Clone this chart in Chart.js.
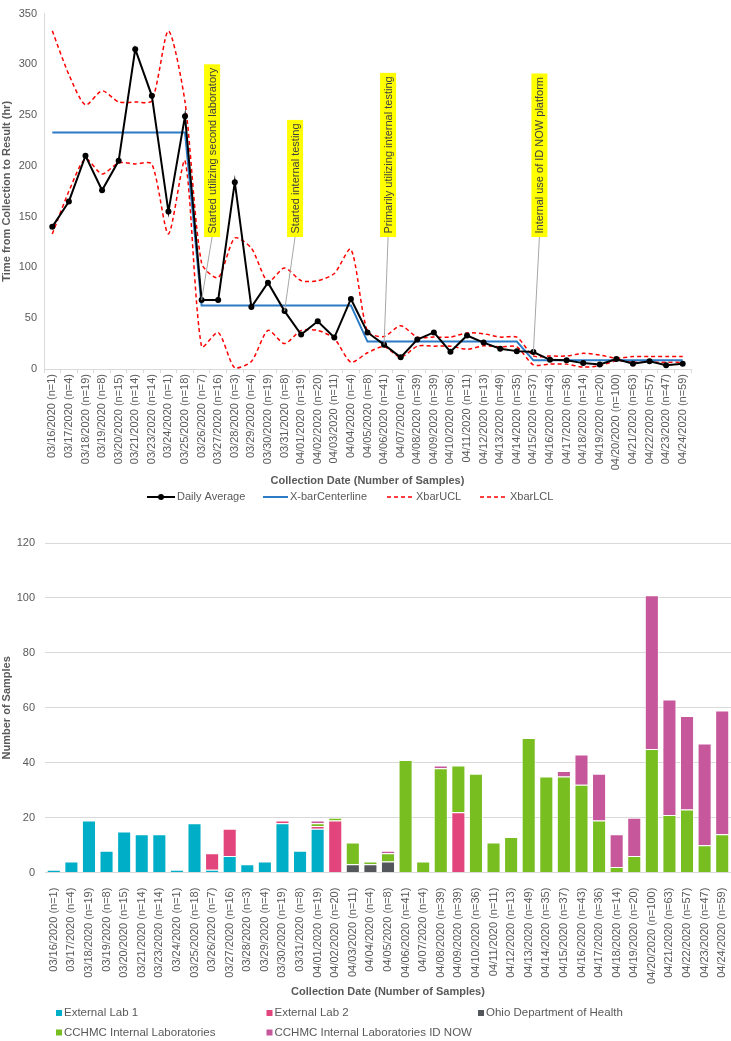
<!DOCTYPE html>
<html>
<head>
<meta charset="utf-8">
<script src="https://cdn.jsdelivr.net/npm/chart.js@4.4.1/dist/chart.umd.min.js"></script>
<style>
  html, body { margin: 0; padding: 0; background: #fff; }
  #wrap { position: relative; width: 731px; height: 1041px; }
  #tat { position: absolute; left: 0; top: 0; width: 731px; height: 512px; }
  #vol { position: absolute; left: 0; top: 520px; width: 731px; height: 521px; }
</style>
</head>
<body>
<div id="wrap">
  <canvas id="tat" width="731" height="512"></canvas>
  <canvas id="vol" width="731" height="521"></canvas>
</div>
<script>
// collection dates and sample counts
const dates = ['03/16/2020', '03/17/2020', '03/18/2020', '03/19/2020', '03/20/2020', '03/21/2020',
  '03/23/2020', '03/24/2020', '03/25/2020', '03/26/2020', '03/27/2020', '03/28/2020', '03/29/2020',
  '03/30/2020', '03/31/2020', '04/01/2020', '04/02/2020', '04/03/2020', '04/04/2020', '04/05/2020',
  '04/06/2020', '04/07/2020', '04/08/2020', '04/09/2020', '04/10/2020', '04/11/2020', '04/12/2020',
  '04/13/2020', '04/14/2020', '04/15/2020', '04/16/2020', '04/17/2020', '04/18/2020', '04/19/2020',
  '04/20/2020', '04/21/2020', '04/22/2020', '04/23/2020', '04/24/2020'];
const sampleCounts = [1, 4, 19, 8, 15, 14, 14, 1, 18, 7, 16, 3, 4, 19, 8, 19, 20, 11, 4, 8,
  41, 4, 39, 39, 36, 11, 13, 49, 35, 37, 43, 36, 14, 20, 100, 63, 57, 47, 59];

// turnaround time (hr)
const dailyAverage = [140, 165, 210, 176, 205, 315, 269, 155, 249,
  68, 68, 184, 61, 85, 57, 34, 47, 31, 69,
  36, 24, 11.5, 29, 36, 17, 33, 26, 20, 17.6,
  16.7, 9, 8.7, 5.8, 4.5, 9.9, 5.1, 7.7, 3.8, 5.1];
const centerline = [233, 233, 233, 233, 233, 233, 233, 233, 233,
  62.6, 62.6, 62.6, 62.6, 62.6, 62.6, 62.6, 62.6, 62.6, 62.6,
  27, 27, 27, 27, 27, 27, 27, 27, 27, 27,
  8.5, 8.5, 8.5, 8.5, 8.5, 8.5, 8.5, 8.5, 8.5, 8.5];
const ucl = [333, 290, 260, 274, 263, 263, 264, 333, 263,
  104, 90, 129, 119, 86, 99.5, 87, 87, 94, 118,
  37, 32, 42.7, 31.4, 31.4, 31.4, 35.5, 34.7, 31.4, 31.4,
  13, 12.8, 12.8, 15.4, 13.8, 10.6, 12.2, 12.2, 12.2, 12.2];
const lcl = [133, 175, 207, 192, 203, 202, 202, 133, 205,
  22, 36, 1, 7.3, 38, 25, 38, 38, 30, 6.7,
  16, 22, 11.6, 22.5, 22.5, 22.5, 19.5, 22.8, 21.8, 21.8,
  4.1, 4.8, 4.8, 1.9, 3.2, 8, 6.7, 6.7, 6.7, 6.7];

// samples by testing site
const extLab1 = [1, 4, 19, 8, 15, 14, 14, 1, 18, 1, 6, 3, 4, 18, 8, 16, 0, 0, 0, 0,
  0, 0, 0, 0, 0, 0, 0, 0, 0, 0, 0, 0, 0, 0, 0, 0, 0, 0, 0];
const extLab2 = [0, 0, 0, 0, 0, 0, 0, 0, 0, 6, 10, 0, 0, 1, 0, 1, 19, 0, 0, 0,
  0, 0, 0, 22, 0, 0, 0, 0, 0, 0, 0, 0, 0, 0, 0, 0, 0, 0, 0];
const ohioHealth = [0, 0, 0, 0, 0, 0, 0, 0, 0, 0, 0, 0, 0, 0, 0, 0, 0, 3, 3, 4,
  0, 0, 0, 0, 0, 0, 0, 0, 0, 0, 0, 0, 0, 0, 0, 0, 0, 0, 0];
const cchmc = [0, 0, 0, 0, 0, 0, 0, 0, 0, 0, 0, 0, 0, 0, 0, 1, 1, 8, 1, 3,
  41, 4, 38, 17, 36, 11, 13, 49, 35, 35, 32, 19, 2, 6, 45, 21, 23, 10, 14];
const cchmcIdNow = [0, 0, 0, 0, 0, 0, 0, 0, 0, 0, 0, 0, 0, 0, 0, 1, 0, 0, 0, 1,
  0, 0, 1, 0, 0, 0, 0, 0, 0, 2, 11, 17, 12, 14, 56, 42, 34, 37, 45];

const notes = [
  { at: 9, text: 'Started utilizing second laboratory', dx: 10.5 },
  { at: 14, text: 'Started internal testing', dx: 10.5 },
  { at: 20, text: 'Primarily utilizing internal testing', dx: 4 },
  { at: 29, text: 'Internal use of ID NOW platform', dx: 6 }
];

const labels = dates.map((d, i) => `${d} (n=${sampleCounts[i]})`);

Chart.defaults.font.family = '"Liberation Sans", Arial, sans-serif';
Chart.defaults.color = '#595959';

const grey = '#d9d9d9';
const textGrey = '#595959';

// yellow callout boxes
const callouts = {
  id: 'callouts',
  afterDatasetsDraw(chart) {
    const { ctx, scales: { x, y } } = chart;
    ctx.save();
    ctx.font = '11px "Liberation Sans", Arial, sans-serif';
    notes.forEach(n => {
      const px = x.getPixelForValue(n.at);
      const py = y.getPixelForValue(dailyAverage[n.at]);
      const cx = px + n.dx;
      const bottom = y.getPixelForValue(130);
      const h = ctx.measureText(n.text).width + 7;
      ctx.strokeStyle = '#a6a6a6';
      ctx.lineWidth = 1;
      ctx.beginPath();
      ctx.moveTo(cx, bottom);
      ctx.lineTo(px, py);
      ctx.stroke();
      ctx.fillStyle = '#ffff00';
      ctx.fillRect(cx - 8, bottom - h, 16, h);
      ctx.save();
      ctx.translate(cx, bottom - 3.5);
      ctx.rotate(-Math.PI / 2);
      ctx.fillStyle = '#404040';
      ctx.textAlign = 'left';
      ctx.textBaseline = 'middle';
      ctx.fillText(n.text, 0, 0.5);
      ctx.restore();
    });
    ctx.restore();
  }
};

const lineLegend = {
  id: 'lineLegend',
  afterDraw(chart) {
    const { ctx } = chart;
    const yy = 497;
    const items = [
      { x1: 147, x2: 175, tx: 177, ds: 0, dot: true },
      { x1: 263, x2: 288, tx: 290, ds: 1 },
      { x1: 387, x2: 414, tx: 416, ds: 2 },
      { x1: 480, x2: 508, tx: 510, ds: 3 }
    ];
    ctx.save();
    ctx.font = '11px "Liberation Sans", Arial, sans-serif';
    ctx.textBaseline = 'middle';
    items.forEach(it => {
      const d = chart.data.datasets[it.ds];
      ctx.strokeStyle = d.borderColor;
      ctx.lineWidth = d.borderWidth;
      ctx.setLineDash(d.borderDash || []);
      ctx.beginPath();
      ctx.moveTo(it.x1, yy);
      ctx.lineTo(it.x2, yy);
      ctx.stroke();
      ctx.setLineDash([]);
      if (it.dot) {
        ctx.fillStyle = d.borderColor;
        ctx.beginPath();
        ctx.arc((it.x1 + it.x2) / 2, yy, 3, 0, Math.PI * 2);
        ctx.fill();
      }
      ctx.fillStyle = textGrey;
      ctx.fillText(d.label, it.tx, yy);
    });
    ctx.restore();
  }
};

new Chart(document.getElementById('tat'), {
  type: 'line',
  data: {
    labels: labels,
    datasets: [{
      label: 'Daily Average',
      data: dailyAverage,
      borderColor: '#000000',
      backgroundColor: '#000000',
      borderWidth: 2,
      pointRadius: 3,
      pointBorderWidth: 0,
      tension: 0
    }, {
      label: 'X-barCenterline',
      data: centerline,
      borderColor: '#2b7bc6',
      borderWidth: 2,
      pointRadius: 0,
      tension: 0
    }, {
      label: 'XbarUCL',
      data: ucl,
      borderColor: '#ff0000',
      borderWidth: 1.5,
      borderDash: [4, 3],
      pointRadius: 0,
      tension: 0.25
    }, {
      label: 'XbarLCL',
      data: lcl,
      borderColor: '#ff0000',
      borderWidth: 1.5,
      borderDash: [4, 3],
      pointRadius: 0,
      tension: 0.25
    }]
  },
  options: {
    responsive: false,
    animation: false,
    layout: { padding: { top: 7, right: 40, bottom: 24, left: 0 } },
    plugins: { legend: { display: false }, tooltip: { enabled: false } },
    scales: {
      x: {
        offset: true,
        grid: { display: true, drawOnChartArea: false, drawTicks: true, tickLength: 4, offset: true, color: grey },
        border: { display: true, color: grey },
        ticks: { autoSkip: false, minRotation: 90, maxRotation: 90, padding: 1, color: textGrey, font: { size: 11 } },
        title: { display: true, text: 'Collection Date (Number of Samples)', color: textGrey, padding: 0,
          font: { size: 11, weight: 'bold' } },
        afterFit(s) { s.height = 119; s.paddingLeft = 0; s.paddingRight = 0; }
      },
      y: {
        min: 0,
        max: 350,
        grid: { display: false, drawTicks: false },
        border: { display: true, color: grey },
        ticks: { stepSize: 50, padding: 7, color: textGrey, font: { size: 11 } },
        title: { display: true, text: 'Time from Collection to Result (hr)', color: textGrey, padding: 0,
          font: { size: 11, weight: 'bold' } },
        afterFit(s) { s.width = 44; }
      }
    }
  },
  plugins: [callouts, lineLegend]
});

const barLegend = {
  id: 'barLegend',
  afterDraw(chart) {
    const { ctx } = chart;
    const spots = [[56, 493], [266.5, 493], [478, 493], [56, 512.5], [266.5, 512.5]];
    ctx.save();
    ctx.font = '11.5px "Liberation Sans", Arial, sans-serif';
    ctx.textBaseline = 'middle';
    chart.data.datasets.forEach((d, i) => {
      const [sx, sy] = spots[i];
      ctx.fillStyle = d.backgroundColor;
      ctx.fillRect(sx, sy - 3, 6, 6);
      ctx.fillStyle = textGrey;
      ctx.fillText(d.label, sx + 8, sy);
    });
    ctx.restore();
  }
};

const barStyle = { borderWidth: 1, borderColor: 'rgba(255,255,255,0.6)', borderSkipped: 'start' };

new Chart(document.getElementById('vol'), {
  type: 'bar',
  data: {
    labels: labels,
    datasets: [
      { label: 'External Lab 1', data: extLab1, backgroundColor: '#00aec7', ...barStyle },
      { label: 'External Lab 2', data: extLab2, backgroundColor: '#e1457b', ...barStyle },
      { label: 'Ohio Department of Health', data: ohioHealth, backgroundColor: '#53565a', ...barStyle },
      { label: 'CCHMC Internal Laboratories', data: cchmc, backgroundColor: '#78be20', ...barStyle },
      { label: 'CCHMC Internal Laboratories ID NOW', data: cchmcIdNow, backgroundColor: '#c6579a', ...barStyle }
    ]
  },
  options: {
    responsive: false,
    animation: false,
    layout: { padding: { top: 23, right: 0, bottom: 42.4, left: 0 } },
    datasets: { bar: { categoryPercentage: 0.8, barPercentage: 1 } },
    plugins: { legend: { display: false }, tooltip: { enabled: false } },
    scales: {
      x: {
        stacked: true,
        grid: { display: false },
        border: { display: true, color: grey },
        ticks: { autoSkip: false, minRotation: 90, maxRotation: 90, padding: 7, color: textGrey, font: { size: 11 } },
        title: { display: true, text: 'Collection Date (Number of Samples)', color: textGrey, padding: 0,
          font: { size: 11, weight: 'bold' } },
        afterFit(s) { s.height = 126; s.paddingLeft = 0; s.paddingRight = 0; }
      },
      y: {
        stacked: true,
        min: 0,
        max: 120,
        grid: { color: grey, drawTicks: false },
        border: { display: false },
        ticks: { stepSize: 20, padding: 10, color: textGrey, font: { size: 11 } },
        title: { display: true, text: 'Number of Samples', color: textGrey, padding: 0,
          font: { size: 11, weight: 'bold' } },
        afterFit(s) { s.width = 45; }
      }
    }
  },
  plugins: [barLegend]
});
</script>
</body>
</html>
